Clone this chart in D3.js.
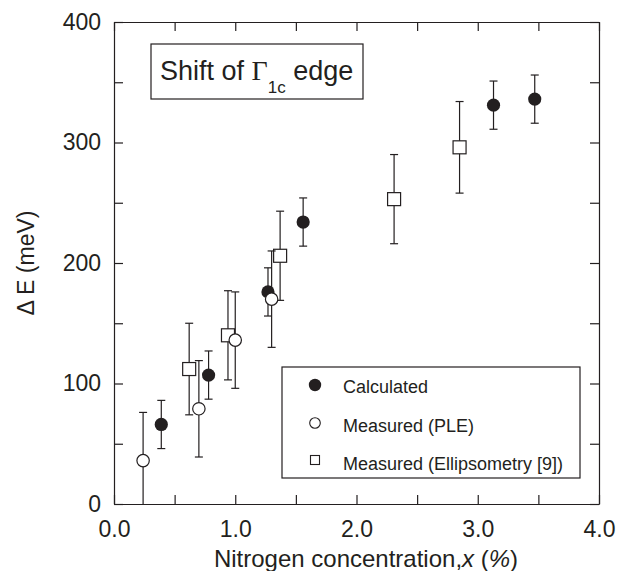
<!DOCTYPE html>
<html>
<head>
<meta charset="utf-8">
<script src="https://cdn.jsdelivr.net/npm/d3@7"></script>
<style>
  body { margin: 0; background: #fff; }
  svg { font-family: "Liberation Sans", Arial, sans-serif; }
  .axis path, .axis line { stroke: #231f20; stroke-width: 1.2; }
  .axis text { font-size: 23px; fill: #231f20; }
</style>
</head>
<body>
<div id="chart"></div>
<script>
// calculated shift of the Gamma_1c edge
var calcX = [0.39, 0.78, 1.27, 1.56, 3.13, 3.47];
var calcY = [66, 107, 176, 234, 331, 336];
var calcErr = [20, 20, 20, 20, 20, 20];

// measured (PLE)
var pleX = [0.24, 0.70, 1.00, 1.30];
var pleY = [36, 79, 136, 170];
var pleErr = [40, 40, 40, 40];

// measured (ellipsometry [9])
var ellX = [0.62, 0.94, 1.37, 2.31, 2.85];
var ellY = [112, 140, 206, 253, 296];
var ellErr = [38, 37, 37, 37, 38];

var xTicks = [0, 0.5, 1, 1.5, 2, 2.5, 3, 3.5, 4];
var yTicks = [0, 50, 100, 150, 200, 250, 300, 350, 400];

var legendLabels = ['Calculated', 'Measured (PLE)', 'Measured (Ellipsometry [9])'];

var ink = '#231f20';
var W = 626, H = 571;
var margin = { left: 114, right: 27, top: 22, bottom: 67 };
var w = W - margin.left - margin.right;
var h = H - margin.top - margin.bottom;

var x = d3.scaleLinear().domain([0, 4]).range([0, w]);
var y = d3.scaleLinear().domain([0, 400]).range([h, 0]);

var svg = d3.select('#chart')
  .append('svg')
  .attr('width', W)
  .attr('height', H)
  .append('g')
  .attr('transform', 'translate(' + margin.left + ',' + margin.top + ')');

// axes with inward ticks on all four sides
var xLab = function(d) { return d % 1 === 0 ? d3.format('.1f')(d) : ''; };
var yLab = function(d) { return d % 100 === 0 ? d : ''; };

svg.append('g')
  .attr('class', 'axis')
  .attr('transform', 'translate(0,' + h + ')')
  .call(d3.axisBottom(x).tickValues(xTicks).tickSize(-9).tickSizeOuter(0).tickPadding(17).tickFormat(xLab));
svg.append('g')
  .attr('class', 'axis')
  .call(d3.axisTop(x).tickValues(xTicks).tickSize(-9).tickSizeOuter(0).tickFormat(''));
svg.append('g')
  .attr('class', 'axis')
  .call(d3.axisLeft(y).tickValues(yTicks).tickSize(-9).tickSizeOuter(0).tickPadding(13).tickFormat(yLab));
svg.append('g')
  .attr('class', 'axis')
  .attr('transform', 'translate(' + w + ',0)')
  .call(d3.axisRight(y).tickValues(yTicks).tickSize(-9).tickSizeOuter(0).tickFormat(''));

// axis titles
var xt = svg.append('text')
  .attr('x', 252)
  .attr('y', h + 63)
  .attr('text-anchor', 'middle')
  .style('font-size', '24px')
  .attr('fill', ink);
xt.append('tspan').text('Nitrogen concentration,');
xt.append('tspan').style('font-style', 'italic').text('x');
xt.append('tspan').text(' (');
xt.append('tspan').style('font-style', 'italic').text('%');
xt.append('tspan').text(')');

svg.append('text')
  .attr('transform', 'translate(' + (-88) + ',' + (h / 2) + ') rotate(-90)')
  .attr('text-anchor', 'middle')
  .attr('dy', '0.35em')
  .style('font-size', '23px')
  .attr('fill', ink)
  .text('\u0394 E (meV)');

// error bars, one series at a time
function errorBars(xs, ys, es) {
  var g = svg.append('g').attr('stroke', ink).attr('stroke-width', 1.2);
  xs.forEach(function(xv, i) {
    var lo = Math.max(0, ys[i] - es[i]), hi = ys[i] + es[i];
    g.append('line').attr('x1', x(xv)).attr('x2', x(xv)).attr('y1', y(lo)).attr('y2', y(hi));
    g.append('line').attr('x1', x(xv) - 4).attr('x2', x(xv) + 4).attr('y1', y(hi)).attr('y2', y(hi));
    if (lo > 0) {
      g.append('line').attr('x1', x(xv) - 4).attr('x2', x(xv) + 4).attr('y1', y(lo)).attr('y2', y(lo));
    }
  });
}

// squares
errorBars(ellX, ellY, ellErr);
svg.append('g').selectAll('rect')
  .data(ellX)
  .enter().append('rect')
  .attr('x', function(d) { return x(d) - 6.5; })
  .attr('y', function(d, i) { return y(ellY[i]) - 6.5; })
  .attr('width', 13).attr('height', 13)
  .attr('fill', '#fff').attr('stroke', ink).attr('stroke-width', 1.2);

// filled circles
errorBars(calcX, calcY, calcErr);
svg.append('g').selectAll('circle')
  .data(calcX)
  .enter().append('circle')
  .attr('cx', function(d) { return x(d); })
  .attr('cy', function(d, i) { return y(calcY[i]); })
  .attr('r', 6.6)
  .attr('fill', ink);

// open circles
errorBars(pleX, pleY, pleErr);
svg.append('g').selectAll('circle')
  .data(pleX)
  .enter().append('circle')
  .attr('cx', function(d) { return x(d); })
  .attr('cy', function(d, i) { return y(pleY[i]); })
  .attr('r', 6.2)
  .attr('fill', '#fff').attr('stroke', ink).attr('stroke-width', 1.2);

// title box
svg.append('rect')
  .attr('x', 37).attr('y', 22)
  .attr('width', 212).attr('height', 55)
  .attr('fill', 'none').attr('stroke', ink).attr('stroke-width', 1.2);
var tt = svg.append('text')
  .attr('x', 46).attr('y', 58)
  .style('font-size', '27px')
  .attr('fill', ink);
tt.append('tspan').text('Shift of ');
tt.append('tspan').style('font-family', '"Liberation Serif", serif').style('font-size', '28px').text('\u0393');
tt.append('tspan').attr('dy', 13).style('font-size', '17px').text('1c');
tt.append('tspan').attr('dy', -13).text(' edge');

// legend
var lg = svg.append('g').attr('transform', 'translate(168,345)');
lg.append('rect')
  .attr('width', 298).attr('height', 111)
  .attr('fill', '#fff').attr('stroke', ink).attr('stroke-width', 1.2);
lg.append('circle').attr('cx', 33).attr('cy', 18).attr('r', 6.2).attr('fill', ink);
lg.append('circle').attr('cx', 33).attr('cy', 56).attr('r', 5.3)
  .attr('fill', '#fff').attr('stroke', ink).attr('stroke-width', 1.1);
lg.append('rect').attr('x', 28.5).attr('y', 88.5).attr('width', 9).attr('height', 9)
  .attr('fill', '#fff').attr('stroke', ink).attr('stroke-width', 1.1);
lg.selectAll('text.lab')
  .data(legendLabels)
  .enter().append('text')
  .attr('class', 'lab')
  .attr('x', 61)
  .attr('y', function(d, i) { return 26 + i * 38.5; })
  .style('font-size', '18px')
  .attr('fill', ink)
  .text(function(d) { return d; });
</script>
</body>
</html>
